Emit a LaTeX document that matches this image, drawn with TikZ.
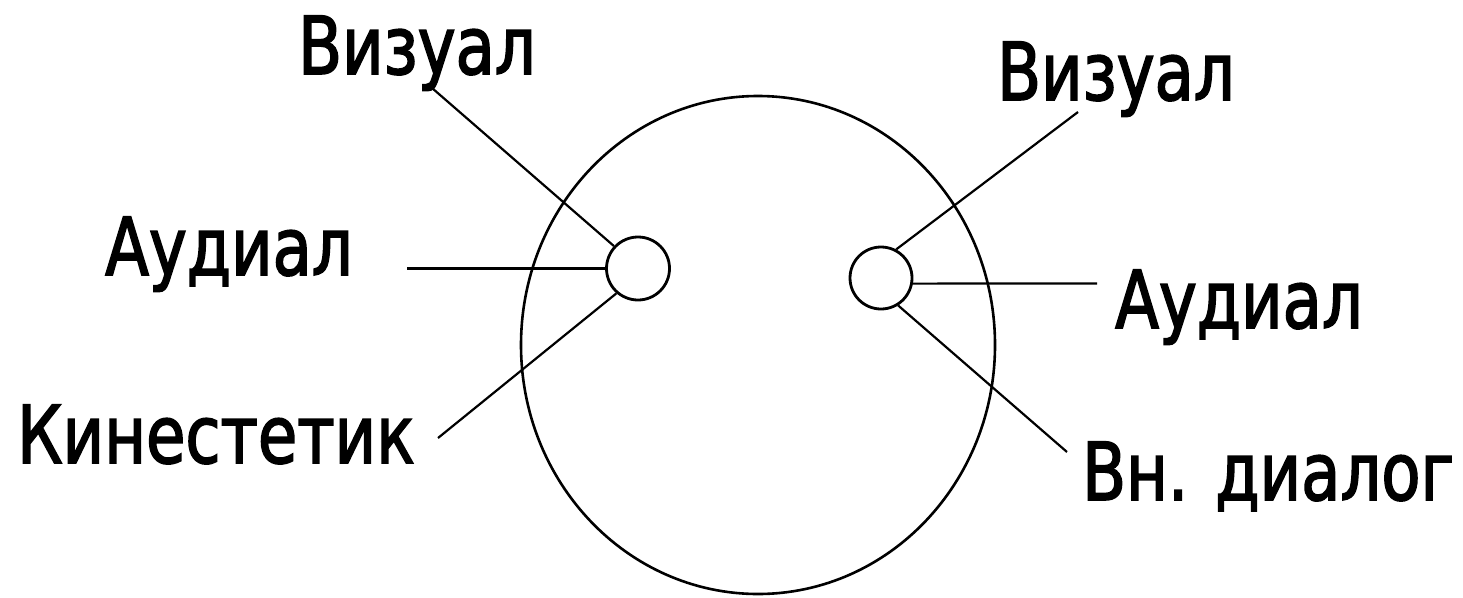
\documentclass[tikz,border=0pt]{standalone}
\usepackage{fontspec}
\setmainfont[FakeStretch=0.8,FakeBold=2]{DejaVu Sans}
\usetikzlibrary{shapes.geometric}
\begin{document}
\begin{tikzpicture}[x=1pt,y=-1pt,
  lbl/.style={anchor=base west, inner sep=0pt, font=\fontsize{80}{90}\selectfont},
  ring/.style={draw, circle, line width=2.8pt, inner sep=0pt, minimum size=#1},
  conn/.style={line width=2.2pt}]
\useasboundingbox (0,0) rectangle (1463,597);
\node[draw, ellipse, line width=2.6pt, inner sep=0pt, minimum width=474pt, minimum height=498pt] (big) at (758,345) {};
\node[ring=63pt] (lc) at (638,268.5) {};
\node[ring=62pt] (rc) at (881,278) {};
\node[lbl] (vl) at (298,74) {Визуал};
\node[lbl] (al) at (105,275) {Аудиал};
\node[lbl] (kl) at (17,463) {Кинестетик};
\node[lbl] (vr) at (997,100) {Визуал};
\node[lbl] (ar) at (1115,328) {Аудиал};
\node[lbl] (dr) at (1082,500) {Вн. диалог};
\coordinate (vle) at (432,88);
\coordinate (ale) at (407,268.5);
\coordinate (kle) at (438,438);
\coordinate (vre) at (1078,112);
\coordinate (are) at (1097,283.4);
\coordinate (dre) at (1067,452);
\draw[conn] (vle) -- (lc.137);
\draw[conn] (ale) -- (lc.180);
\draw[conn] (kle) -- (lc.229);
\draw[conn] (vre) -- (rc.62);
\draw[conn] (are) -- (rc.-10);
\draw[conn] (dre) -- (rc.-58);
\end{tikzpicture}
\end{document}
